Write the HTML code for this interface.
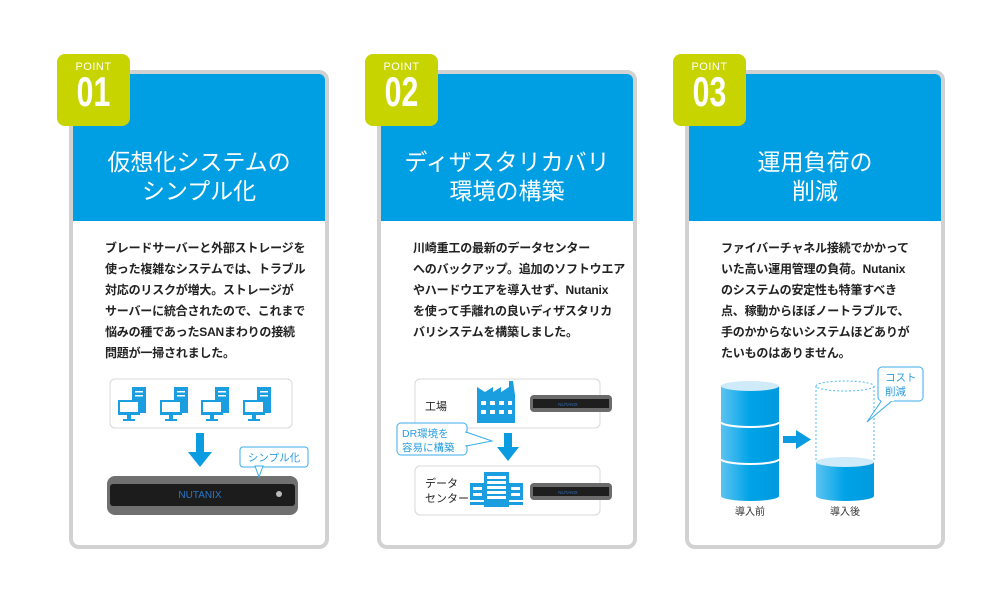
<!DOCTYPE html>
<html><head><meta charset="utf-8">
<style>
body{margin:0;background:#fff;width:1000px;height:600px;overflow:hidden;font-family:"Liberation Sans","Noto Sans CJK JP",sans-serif;}
.card{position:absolute;top:70px;width:252px;height:471px;border:4px solid #d2d2d2;border-radius:10px;background:#fff;}
.hd{position:absolute;left:0;top:0;width:252px;height:147px;background:#009fe3;border-radius:6px 6px 0 0;color:#fff;font-size:23px;line-height:29px;text-align:center;padding-top:0;}
.hd div{position:absolute;left:0;right:0;top:74px;}
.badge{position:absolute;top:54px;width:73px;height:72px;background:#c8d400;border-radius:8px;color:#fff;text-align:center;}
.badge .p{font-size:11px;margin-top:7px;letter-spacing:.5px;}
.badge .n{font-size:42px;line-height:38px;font-weight:bold;transform:scaleX(.72);}
.tx{position:absolute;top:238px;font-size:12px;line-height:21px;color:#222;white-space:nowrap;font-weight:bold;letter-spacing:-0.2px;}
svg{position:absolute;left:0;top:0;}
</style></head><body>
<div class="card" style="left:69px"><div class="hd"><div>仮想化システムの<br>シンプル化</div></div></div>
<div class="card" style="left:377px"><div class="hd"><div>ディザスタリカバリ<br>環境の構築</div></div></div>
<div class="card" style="left:685px"><div class="hd"><div>運用負荷の<br>削減</div></div></div>
<div class="badge" style="left:57px"><div class="p">POINT</div><div class="n">01</div></div>
<div class="badge" style="left:365px"><div class="p">POINT</div><div class="n">02</div></div>
<div class="badge" style="left:673px"><div class="p">POINT</div><div class="n">03</div></div>
<div class="tx" style="left:105px">ブレードサーバーと外部ストレージを<br>使った複雑なシステムでは、トラブル<br>対応のリスクが増大。ストレージが<br>サーバーに統合されたので、これまで<br>悩みの種であったSANまわりの接続<br>問題が一掃されました。</div>
<div class="tx" style="left:413px">川崎重工の最新のデータセンター<br>へのバックアップ。追加のソフトウエア<br>やハードウエアを導入せず、Nutanix<br>を使って手離れの良いディザスタリカ<br>バリシステムを構築しました。</div>
<div class="tx" style="left:721px">ファイバーチャネル接続でかかって<br>いた高い運用管理の負荷。Nutanix<br>のシステムの安定性も特筆すべき<br>点、稼動からほぼノートラブルで、<br>手のかからないシステムほどありが<br>たいものはありません。</div>
<svg width="1000" height="600" font-family="Liberation Sans,Noto Sans CJK JP,sans-serif">
<defs>
<linearGradient id="cy" x1="0" x2="1"><stop offset="0" stop-color="#5cc3f0"/><stop offset=".5" stop-color="#00a3e8"/><stop offset="1" stop-color="#0099dd"/></linearGradient>
<g id="pc"><rect x="14" y="0" width="14" height="26" fill="#1a9ee0"/><rect x="17" y="4" width="8" height="1.5" fill="#fff"/><rect x="17" y="8" width="8" height="1.5" fill="#fff"/><rect x="0" y="13" width="22" height="15" fill="#1a9ee0"/><rect x="2" y="15" width="18" height="10" fill="#fff"/><rect x="9" y="28" width="4" height="4" fill="#1a9ee0"/><rect x="5" y="32" width="12" height="2" fill="#1a9ee0"/></g>
<g id="nx"><rect x="0" y="0" width="82" height="17" rx="4" fill="#6b6b6b"/><rect x="3" y="4" width="76" height="9" fill="#1e1e1e"/><text x="38" y="11" font-size="4.5" fill="#2f6fb8" text-anchor="middle">NUTANIX</text></g>
</defs>
<rect x="110" y="379" width="182" height="49" rx="5" fill="#fff" stroke="#d8d8d8"/>
<use href="#pc" x="118" y="387"/><use href="#pc" x="160" y="387"/><use href="#pc" x="201" y="387"/><use href="#pc" x="243" y="387"/>
<rect x="196" y="433" width="8" height="20" fill="#0a9be0"/><polygon points="188,452 212,452 200,467" fill="#0a9be0"/>
<rect x="107" y="476" width="191" height="39" rx="8" fill="#707070"/>
<rect x="110" y="484" width="185" height="22" rx="3" fill="#1c1c1c"/>
<text x="200" y="498" font-size="10" fill="#2a76c8" text-anchor="middle">NUTANIX</text>
<circle cx="279" cy="494" r="3" fill="#bbb"/>
<rect x="240" y="447" width="68" height="20" rx="3" fill="#fff" stroke="#3aaee8"/>
<polygon points="255,466 263,466 259,477" fill="#fff" stroke="#3aaee8"/>
<text x="274" y="461" font-size="10.5" fill="#2a9de0" text-anchor="middle">シンプル化</text>
<rect x="415" y="379" width="185" height="49" rx="5" fill="#fff" stroke="#d8d8d8"/>
<text x="425" y="410" font-size="11" fill="#222">工場</text>
<rect x="477" y="395" width="38" height="28" fill="#1a9ee0"/><polygon points="477,395 477,387 485,392 493,387 493,392 501,387 501,392 509,387 509,381 513,381 515,395" fill="#1a9ee0"/>
<g fill="#fff"><rect x="481" y="401" width="5" height="4"/><rect x="490" y="401" width="5" height="4"/><rect x="499" y="401" width="5" height="4"/><rect x="508" y="401" width="4" height="4"/><rect x="481" y="410" width="5" height="4"/><rect x="490" y="410" width="5" height="4"/><rect x="499" y="410" width="5" height="4"/><rect x="508" y="410" width="4" height="4"/></g>
<use href="#nx" x="530" y="395"/>
<rect x="504" y="433" width="8" height="15" fill="#0a9be0"/><polygon points="497,447 519,447 508,461" fill="#0a9be0"/>
<rect x="397" y="423" width="70" height="32" rx="4" fill="#fff" stroke="#3aaee8"/>
<polygon points="466,432 492,441 466,446" fill="#fff" stroke="#3aaee8"/><rect x="464" y="433" width="3" height="12" fill="#fff"/>
<text x="402" y="437" font-size="10.5" fill="#2a9de0">DR環境を</text><text x="402" y="451" font-size="10.5" fill="#2a9de0">容易に構築</text>
<rect x="415" y="466" width="185" height="49" rx="5" fill="#fff" stroke="#d8d8d8"/>
<text x="425" y="487" font-size="11" fill="#222">データ</text><text x="425" y="502" font-size="11" fill="#222">センター</text>
<rect x="470" y="483" width="53" height="17" fill="#1a9ee0"/><rect x="484" y="472" width="25" height="35" fill="#1a9ee0"/><rect x="470" y="502" width="53" height="3" fill="#1a9ee0"/>
<g fill="#fff"><rect x="487" y="476" width="19" height="3"/><rect x="487" y="481" width="19" height="3"/><rect x="487" y="486" width="19" height="3"/><rect x="487" y="491" width="19" height="3"/><rect x="487" y="496" width="19" height="3"/><rect x="473" y="487" width="9" height="3"/><rect x="473" y="493" width="9" height="3"/><rect x="511" y="487" width="9" height="3"/><rect x="511" y="493" width="9" height="3"/></g>
<use href="#nx" x="530" y="483"/>
<path d="M721,386 L721,496 A29,5 0 0 0 779,496 L779,386 Z" fill="url(#cy)"/>
<ellipse cx="750" cy="386" rx="29" ry="5" fill="#cfeaf8"/>
<path d="M721,422 A29,5 0 0 0 779,422" fill="none" stroke="#fff" stroke-width="2"/>
<path d="M721,459 A29,5 0 0 0 779,459" fill="none" stroke="#fff" stroke-width="2"/>
<rect x="783" y="436" width="15" height="7" fill="#0a9be0"/><polygon points="796,430 811,439.5 796,449" fill="#0a9be0"/>
<path d="M816,462 L816,496 A29,5 0 0 0 874,496 L874,462 Z" fill="url(#cy)"/>
<ellipse cx="845" cy="462" rx="29" ry="5" fill="#cfeaf8"/>
<path d="M816,386 L816,462 M874,386 L874,462" stroke="#4fb8ec" stroke-dasharray="2,2"/>
<ellipse cx="845" cy="386" rx="29" ry="5" fill="none" stroke="#4fb8ec" stroke-dasharray="2,2"/>
<rect x="878" y="367" width="45" height="34" rx="4" fill="#fff" stroke="#3aaee8"/>
<polygon points="882,400 893,400 867,422" fill="#fff" stroke="#3aaee8"/><rect x="881" y="398" width="13" height="3" fill="#fff"/>
<text x="885" y="381" font-size="10.5" fill="#2a9de0">コスト</text><text x="885" y="395" font-size="10.5" fill="#2a9de0">削減</text>
<text x="750" y="515" font-size="10" fill="#333" text-anchor="middle">導入前</text>
<text x="845" y="515" font-size="10" fill="#333" text-anchor="middle">導入後</text>
</svg>
</body></html>
